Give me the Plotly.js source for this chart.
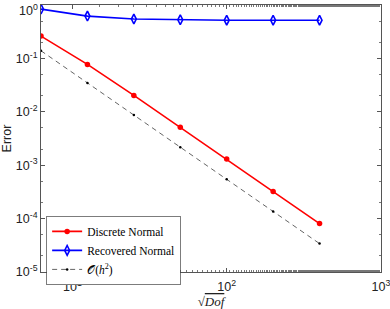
<!DOCTYPE html>
<html>
<head>
<meta charset="utf-8">
<script src="https://cdn.plot.ly/plotly-3.0.1.min.js"></script>
<style>
html,body{margin:0;padding:0;background:#fff;}
#chart{width:390px;height:309px;}
</style>
</head>
<body>
<div id="chart"></div>
<script>
// Data
const sqrtDof = [6.25, 12.5, 25, 50, 100, 200, 400];
const discreteNormal = [0.262, 0.0773, 0.0203, 0.00516, 0.0013, 0.000321, 0.0000807];
const recoveredNormal = [0.84, 0.62, 0.546, 0.53, 0.52, 0.52, 0.52];
const orderH2 = [0.139, 0.0348, 0.0087, 0.00217, 0.000543, 0.000136, 0.000034];
const seriesNames = ['Discrete Normal', 'Recovered Normal', '𝒪(<i>h</i><sup>2</sup>)'];
const xTickVals = [10, 100, 1000];
const xTickText = ['10<sup>1</sup>', '10<sup>2</sup>', '10<sup>3</sup>'];
const yTickVals = [1e-5, 1e-4, 1e-3, 1e-2, 1e-1, 1];
const yTickText = ['10<sup>-5</sup>', '10<sup>-4</sup>', '10<sup>-3</sup>', '10<sup>-2</sup>', '10<sup>-1</sup>', '10<sup>0</sup>'];

const traces = [
  {x: sqrtDof, y: discreteNormal, name: seriesNames[0], type: 'scatter', mode: 'lines+markers',
   line: {color: '#ff0000', width: 1.6}, marker: {symbol: 'circle', size: 5.5, color: '#ff0000'}},
  {x: sqrtDof, y: recoveredNormal, name: seriesNames[1], type: 'scatter', mode: 'lines+markers',
   line: {color: '#0000ff', width: 1.6}, marker: {symbol: 'diamond-tall-open', size: 7, color: '#0000ff', line: {width: 1.6}}},
  {x: sqrtDof, y: orderH2, name: seriesNames[2], type: 'scatter', mode: 'lines+markers',
   line: {color: '#222', width: 0.7, dash: '5px,4px'}, marker: {symbol: 'circle', size: 2.5, color: '#000'}}
];

const tickFont = {family: 'Liberation Sans, Arial, sans-serif', size: 12.5, color: '#222'};
const axisCommon = {
  type: 'log', showline: true, linecolor: '#555', linewidth: 1, mirror: 'ticks',
  ticks: 'inside', ticklen: 4, tickcolor: '#555', showgrid: false, zeroline: false,
  tickmode: 'array', ticklabeloverflow: 'allow',
  tickfont: tickFont,
  minor: {ticks: 'inside', ticklen: 2, tickcolor: '#777', showgrid: false}
};

// top label (10^0) drawn as annotation so it stays inside the page
const yTickTextShown = yTickText.map((t, i) => i === yTickText.length - 1 ? '' : t);

const layout = {
  width: 390, height: 309,
  margin: {l: 41, r: 9, t: 5, b: 37, pad: 0},
  paper_bgcolor: '#fff', plot_bgcolor: '#fff',
  showlegend: true,
  xaxis: Object.assign({}, axisCommon, {
    range: [Math.log10(sqrtDof[0]), 3.0005],
    tickvals: xTickVals, ticktext: xTickText, ticklabelstandoff: 3,
    title: {text: '√<span style="text-decoration:overline"><i>Dof</i></span>',
            font: {family: 'Liberation Serif, Times New Roman, serif', size: 13, color: '#222'}, standoff: 3}
  }),
  yaxis: Object.assign({}, axisCommon, {
    range: [-5.0005, 0.0005],
    tickvals: yTickVals, ticktext: yTickTextShown,
    title: {text: 'Error', font: {family: 'Liberation Sans, Arial, sans-serif', size: 12.5, color: '#222'}, standoff: 3}
  }),
  annotations: [{
    text: yTickText[yTickText.length - 1], xref: 'paper', yref: 'y',
    x: 0, y: Math.log10(yTickVals[yTickVals.length - 1]), xanchor: 'right', yanchor: 'top',
    xshift: -1, yshift: 5, showarrow: false, font: tickFont
  }],
  legend: {
    x: 0.016, y: 0.209, xanchor: 'left', yanchor: 'top',
    bgcolor: '#fff', bordercolor: '#444', borderwidth: 0.7,
    font: {family: 'Liberation Serif, Times New Roman, serif', size: 11.5, color: '#000'},
    tracegroupgap: 0, itemwidth: 30
  }
};

Plotly.newPlot('chart', traces, layout, {displayModeBar: false, staticPlot: true});
</script>
</body>
</html>
